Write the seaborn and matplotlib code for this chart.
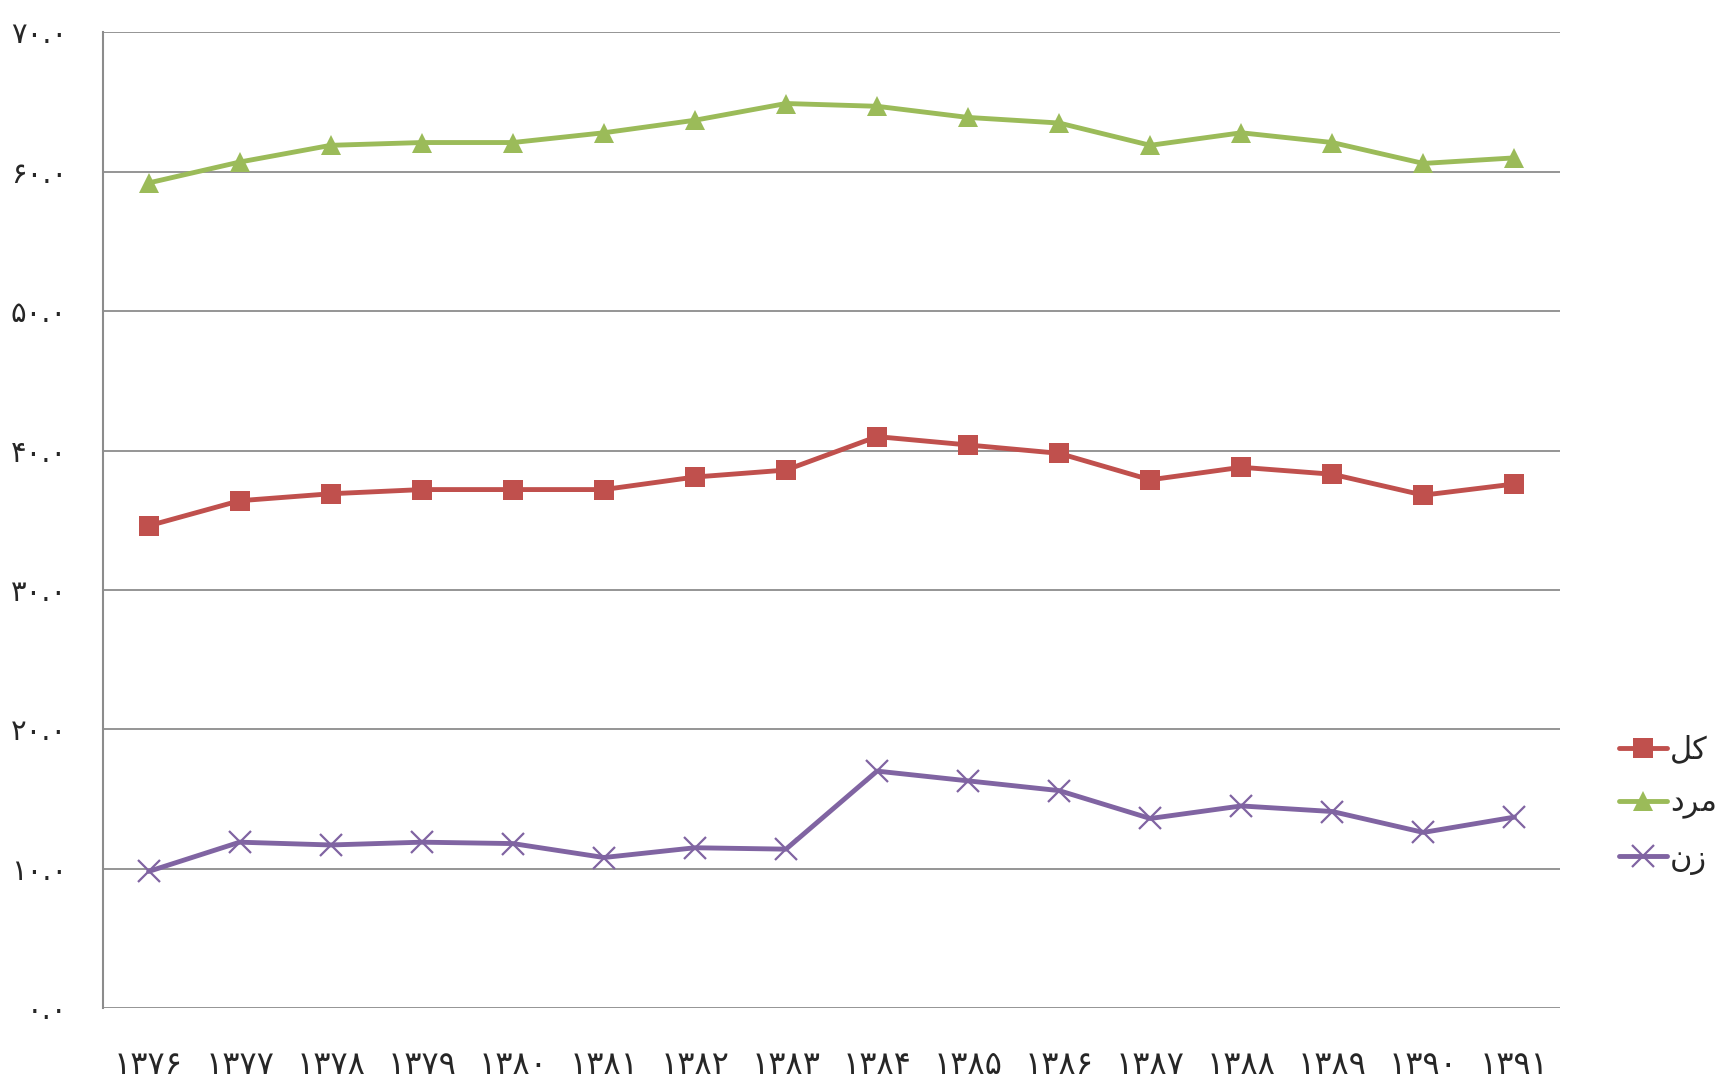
import seaborn as sns
import pandas as pd
import numpy as np
import matplotlib.pyplot as plt

# Persian years 1376..1391
years = ["۱۳۷۶", "۱۳۷۷", "۱۳۷۸", "۱۳۷۹", "۱۳۸۰", "۱۳۸۱", "۱۳۸۲", "۱۳۸۳",
         "۱۳۸۴", "۱۳۸۵", "۱۳۸۶", "۱۳۸۷", "۱۳۸۸", "۱۳۸۹", "۱۳۹۰", "۱۳۹۱"]

total = [34.6, 36.4, 36.9, 37.2, 37.2, 37.2, 38.1, 38.6,
         41.0, 40.4, 39.8, 37.9, 38.8, 38.3, 36.8, 37.6]
male = [59.2, 60.7, 61.9, 62.1, 62.1, 62.8, 63.7, 64.9,
        64.7, 63.9, 63.5, 61.9, 62.8, 62.1, 60.6, 61.0]
female = [9.8, 11.9, 11.7, 11.9, 11.8, 10.8, 11.5, 11.4,
          17.0, 16.3, 15.6, 13.6, 14.5, 14.1, 12.6, 13.7]

series_names = ["کل", "مرد", "زن"]
y_ticks = [0, 10, 20, 30, 40, 50, 60, 70]

# display forms (matplotlib has no RTL shaping)
display_forms = {
    "کل": "\uFEDE\uFB90",
    "مرد": "\uFEA9\uFEAE\uFEE3",
    "زن": "\uFEE5\uFEAF",
}

fa_digits = str.maketrans("0123456789", "۰۱۲۳۴۵۶۷۸۹")

df = pd.DataFrame({
    "x": np.arange(len(years)),
    "کل": total,
    "مرد": male,
    "زن": female,
})

sns.set_style("white")
plt.rcParams['font.family'] = ['DejaVu Sans']

fig = plt.figure(figsize=(17.18, 10.81), dpi=100)
ax = fig.add_axes([0.060, 0.0675, 0.848, 0.9025])

colors = {"کل": "#C0504D", "مرد": "#9BBB59", "زن": "#8064A2"}
markers = {"کل": "s", "مرد": "^", "زن": "x"}
msize = {"کل": 14.5, "مرد": 15, "زن": 16}

for name in series_names:
    kw = dict(marker=markers[name], markersize=msize[name])
    if markers[name] == "x":
        kw["markeredgewidth"] = 1.6
        kw["markeredgecolor"] = colors[name]
    else:
        kw["markeredgewidth"] = 0
    sns.lineplot(data=df, x="x", y=name, ax=ax, color=colors[name],
                 linewidth=3.5, label=display_forms[name], **kw)

ax.set_xlim(-0.5, len(years) - 0.5)
ax.set_ylim(0, 70)
ax.set_yticks(y_ticks)
ax.set_yticklabels([f"{v:.1f}".translate(fa_digits) for v in y_ticks])
ax.set_xticks(df["x"])
ax.set_xticklabels(years)
ax.set_xlabel("")
ax.set_ylabel("")

ax.grid(axis="y", color="#8c8c8c", linewidth=1.3)
ax.set_axisbelow(True)
for s in ["top", "right", "bottom"]:
    ax.spines[s].set_visible(False)
ax.spines["left"].set_color("#8c8c8c")
ax.spines["left"].set_linewidth(1.5)

ax.tick_params(axis="y", length=0, pad=26, labelsize=21)
ax.tick_params(axis="x", length=0, pad=30, labelsize=23)

ax.legend(loc="center left", bbox_to_anchor=(1.022, 0.208), frameon=False,
          fontsize=22, handlelength=1.55, handletextpad=0.1, labelspacing=0.8)

plt.savefig("out.png", dpi=100)
